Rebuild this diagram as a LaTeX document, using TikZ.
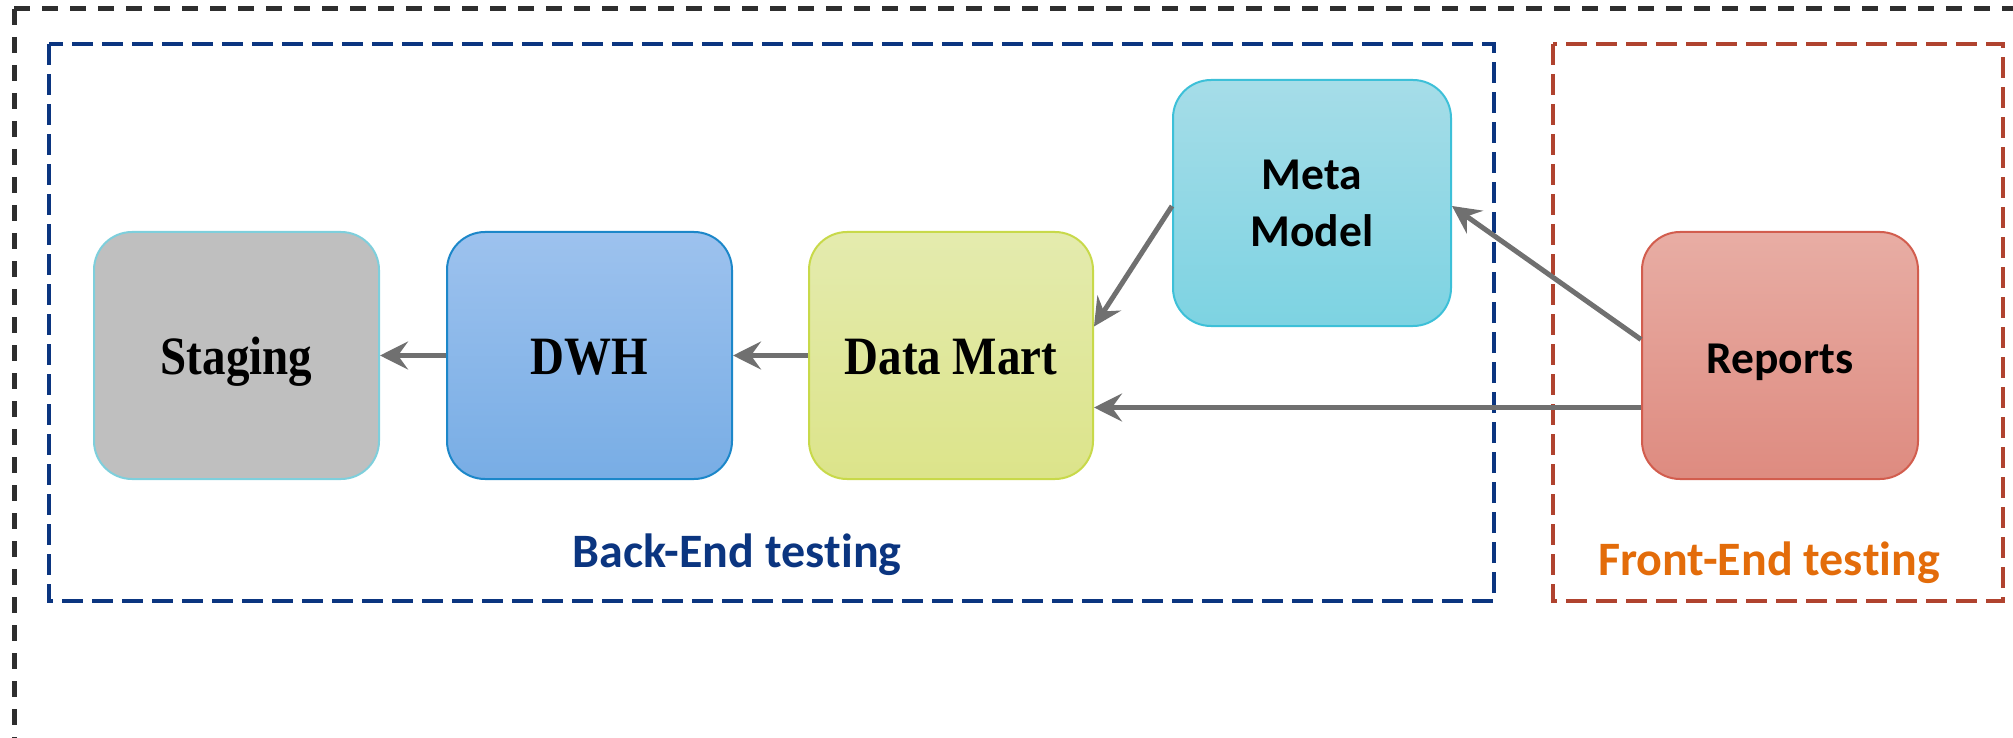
\documentclass[tikz,border=0pt]{standalone}
\usepackage{fontspec}
\usetikzlibrary{arrows.meta,calc}
\newfontfamily\titlefont{Liberation Serif}
\newfontfamily\labelfont{Carlito}[RawFeature={-liga;-clig;-calt;-dlig}]
\newcommand{\tstng}{tes\kern0pt t\kern0pt ing}

\definecolor{framegray}{HTML}{2E2E2E}
\definecolor{backblue}{HTML}{0B3580}
\definecolor{frontred}{HTML}{B0432F}
\definecolor{frontorange}{HTML}{E36C0A}
\definecolor{arrowgray}{HTML}{707070}
\definecolor{stgfill}{HTML}{BFBFBF}
\definecolor{stgline}{HTML}{7ECFDC}
\definecolor{dwhtop}{HTML}{9DC2EE}
\definecolor{dwhbot}{HTML}{78ADE5}
\definecolor{dwhline}{HTML}{1C87C9}
\definecolor{dmtop}{HTML}{E4EBAE}
\definecolor{dmbot}{HTML}{DCE48A}
\definecolor{dmline}{HTML}{C8D94A}
\definecolor{metatop}{HTML}{A6DDE8}
\definecolor{metabot}{HTML}{7DD3E2}
\definecolor{metaline}{HTML}{3DC0D8}
\definecolor{reptop}{HTML}{E8ADA4}
\definecolor{repbot}{HTML}{DE8B80}
\definecolor{repline}{HTML}{D25D4E}

\begin{document}
\begin{tikzpicture}[x=1pt,y=-1pt,
  box/.style={rounded corners=38pt, line width=2pt, inner sep=0pt,
    minimum width=285pt, minimum height=247pt, align=center},
  serifbox/.style={box, font=\titlefont\bfseries\fontsize{54}{64}\selectfont,
    text height=38pt, text depth=0pt},
  sansbox/.style={box, font=\labelfont\bfseries\fontsize{45.5}{57}\selectfont},
  zone/.style={dash pattern=on 21pt off 9pt, line width=3.5pt},
  zonelabel/.style={anchor=base, inner sep=0pt,
    font=\labelfont\bfseries\fontsize{48}{58}\selectfont},
  link/.style={draw=arrowgray, line width=5pt,
    -{Stealth[length=28pt,width=28pt,inset=10pt]}},
]
\useasboundingbox (0,0) rectangle (2013,738);

% outer frame, open to the right and below
\draw[framegray, line width=5pt, dash pattern=on 16pt off 12pt]
  (14,9) -- (2020,9);
\draw[framegray, line width=5pt, dash pattern=on 16pt off 12pt]
  (14,9) -- (14,745);

% testing zones
\draw[zone, backblue] (49,44) rectangle (1494,601);
\draw[zone, frontred] (1553,44) rectangle (2003,601);

% layers
\node[serifbox, fill=stgfill, draw=stgline] (stg) at (236.5,355.5)
  {\scalebox{0.87}[1]{Staging}};
\node[serifbox, top color=dwhtop, bottom color=dwhbot, draw=dwhline] (dwh) at (589.5,355.5)
  {\scalebox{0.87}[1]{DWH}};
\node[serifbox, minimum width=284pt, top color=dmtop, bottom color=dmbot, draw=dmline] (dm) at (951,355.5)
  {\scalebox{0.87}[1]{Data Mart}};
\node[sansbox, minimum width=278pt, minimum height=246pt, top color=metatop, bottom color=metabot, draw=metaline] (meta) at (1312,203)
  {Meta\\Model};
\node[sansbox, minimum width=276pt, top color=reptop, bottom color=repbot, draw=repline,
  text height=36pt, text depth=0pt] (rep) at (1780,355.5)
  {Reports};

% zone captions
\node[zonelabel, text=backblue] (backlbl) at (737,567) {Back-End \tstng};
\node[zonelabel, text=frontorange] (frontlbl) at (1769,575) {Front-End \tstng};

% data flow
\draw[link] (dwh.west) -- (stg.east);
\draw[link] (dm.west) -- (dwh.east);
\draw[link] ($(rep.west)+(0,52)$) -- ($(dm.east)+(0,52)$);
\draw[link] ($(rep.west)+(0,-16)$) -- ($(meta.east)+(0,3)$);
\draw[link] ($(meta.west)+(0,3)$) -- ($(dm.east)+(0,-29)$);
\end{tikzpicture}
\end{document}
